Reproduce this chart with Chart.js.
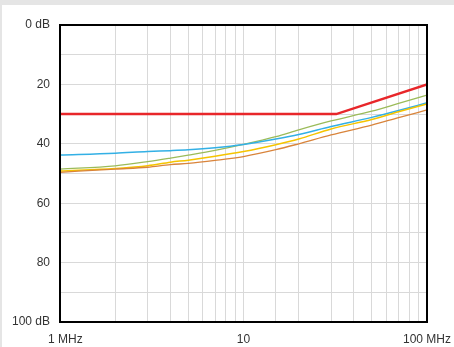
<!DOCTYPE html>
<html>
<head>
<meta charset="utf-8">
<script src="https://cdn.jsdelivr.net/npm/chart.js@4/dist/chart.umd.min.js"></script>
<style>
  html, body { margin: 0; padding: 0; background: #e5e5e5; }
  #wrap { position: absolute; left: 2px; top: 5px; width: 452px; height: 342px; background: #fff; }
  canvas { display: block; }
</style>
</head>
<body>
<div id="wrap"><canvas id="chart" width="452" height="342"></canvas></div>
<script>
// frequencies in MHz
var freqs = [1, 2, 3, 4, 5, 7, 10, 15, 20, 30, 50, 70, 100];
var blue = [43.8, 43.2, 42.6, 42.3, 42.0, 41.3, 40.2, 38.4, 36.9, 34.2, 31.1, 28.8, 26.2];
var green = [48.5, 47.4, 46.0, 44.8, 43.8, 42.2, 40.2, 37.6, 35.3, 32.3, 29.0, 26.4, 23.6];
var yellow = [49.2, 48.3, 47.4, 46.2, 45.5, 44.2, 42.6, 40.3, 38.4, 35.0, 31.8, 29.2, 26.6];
var orange = [49.6, 48.5, 47.9, 47.0, 46.6, 45.6, 44.3, 42.0, 40.0, 37.0, 33.7, 31.2, 28.6];
// limit line
var limitFreqs = [1, 32, 100];
var limit = [30, 30, 20];

var xLabels = { 1: "1 MHz", 10: "10", 100: "100 MHz" };
var yLabels = { 0: "0 dB", 20: "20", 40: "40", 60: "60", 80: "80", 100: "100 dB" };

function pts(xs, ys) {
	return xs.map(function (x, i) { return { x: x, y: ys[i] }; });
}

function line(data, color, width, smooth) {
	return {
		data: data,
		borderColor: color,
		borderWidth: width,
		pointRadius: 0,
		fill: false,
		tension: smooth ? 0.3 : 0,
		cubicInterpolationMode: smooth ? 'monotone' : 'default'
	};
}

var frame = {
	id: 'frame',
	afterDraw: function (chart) {
		var c = chart.ctx, a = chart.chartArea;
		c.save();
		c.strokeStyle = '#000';
		c.lineWidth = 2;
		c.strokeRect(a.left, a.top, a.right - a.left, a.bottom - a.top);
		// x labels
		var xs = chart.scales.x;
		c.fillStyle = '#333';
		c.font = '12px "Liberation Sans", Arial, sans-serif';
		c.textBaseline = 'middle';
		Object.keys(xLabels).forEach(function (k) {
			var v = Number(k);
			var px = xs.getPixelForValue(v);
			if (v === 1) {
				c.textAlign = 'left';
				px -= 12;
			} else {
				c.textAlign = 'center';
			}
			c.fillText(xLabels[k], px, a.bottom + 18);
		});
		c.restore();
	}
};

var config = {
	type: 'line',
	data: {
		datasets: [
			line(pts(freqs, orange), '#d9843b', 1.3, true),
			line(pts(freqs, yellow), '#f5c400', 1.5, true),
			line(pts(freqs, blue), '#33b0e5', 1.5, true),
			line(pts(freqs, green), '#9bbb59', 1.3, true),
			line(pts(limitFreqs, limit), '#e8262a', 2.5, false)
		]
	},
	options: {
		responsive: false,
		animation: false,
		layout: { padding: { left: 0, top: 20, right: 27, bottom: 0 } },
		plugins: { legend: { display: false }, tooltip: { enabled: false } },
		scales: {
			x: {
				type: 'logarithmic',
				min: 1,
				max: 100,
				grid: { color: '#d9d9d9', drawTicks: false },
				border: { display: false },
				ticks: {
					autoSkip: false,
					maxRotation: 0,
					color: 'rgba(0,0,0,0)',
					callback: function () { return ''; }
				},
				afterFit: function (s) { s.height = 25; }
			},
			y: {
				min: 0,
				max: 100,
				reverse: true,
				grid: { color: '#d9d9d9', drawTicks: false },
				border: { display: false },
				ticks: {
					stepSize: 10,
					padding: 10,
					color: '#333',
					font: { family: '"Liberation Sans", Arial, sans-serif', size: 12 },
					callback: function (v) { return yLabels[v] !== undefined ? yLabels[v] : ''; }
				},
				afterFit: function (s) { s.width = 58; }
			}
		}
	},
	plugins: [frame]
};

var ctx = document.getElementById("chart").getContext("2d");
window.myLine = new Chart(ctx, config);
</script>
</body>
</html>
